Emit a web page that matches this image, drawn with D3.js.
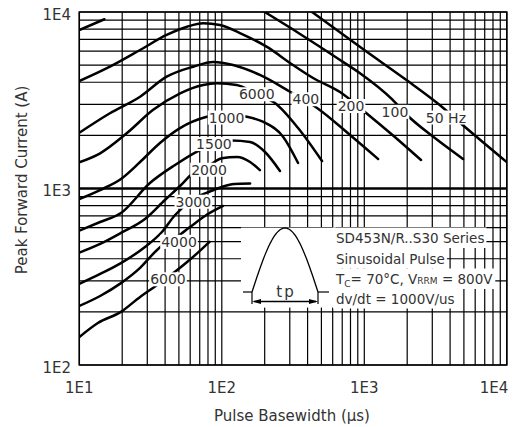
<!DOCTYPE html>
<html>
<head>
<meta charset="utf-8">
<script src="https://cdn.jsdelivr.net/npm/d3@7"></script>
<style>
  body { margin: 0; background: #fff; }
  text { font-family: "DejaVu Sans", sans-serif; fill: #333; }
</style>
</head>
<body>
<svg id="chart" width="526" height="427"></svg>
<script>
// curves: [pulse basewidth (us), peak current (A)]
var c50   = [[430,10000],[1000,6090],[2000,4090],[3300,3020],[5090,2230],[10000,1410]];
var c100a = [[10,7900],[15,9100]];
var c100b = [[200,10000],[354,7510],[676,5350],[933,4500],[1563,3210],[2000,2600],[3130,1930],[4930,1470]];
var c200  = [[10,4060],[16.4,4900],[26.7,6090],[41,7410],[57,8250],[74,8630],[97,8440],[134,7600],[206,6360],[316,5010],[437,4230],[675,3520],[1030,2680],[1600,1990],[2500,1450]];
var c400  = [[10,2070],[16.4,2670],[26.7,3310],[41,4300],[63,4900],[87,5210],[120,5010],[185,4400],[301,3535],[466,2860],[794,2010],[1250,1470]];
var c600  = [[10,1408],[14,1583],[21.5,2054],[33,2790],[51,3463],[74,3860],[92.5,3945],[127,3860],[174,3430],[236,3050],[343,2200],[505,1430]];
var c1000 = [[10,872],[14,980],[19.6,1132],[26.7,1413],[36.8,1810],[50.9,2200],[77.4,2540],[107,2640],[150,2552],[194,2390],[269,1966],[343,1395]];
var c1500 = [[10,577],[14,646],[19.6,726],[31.3,1074],[47,1360],[67,1620],[88,1786],[117,1870],[158,1834],[201,1610],[256,1257]];
var c2000 = [[10,433],[14,485],[19.6,560],[28.9,672],[39.9,861],[50.9,1033],[61.8,1208],[82.6,1360],[99.8,1483],[128,1508],[158,1413],[185,1270]];
var c3000 = [[10,288],[14,328],[19.6,378],[28.9,466],[38,567],[47,708],[62.8,870],[84,968],[100,1020],[122,1060],[158,1067]];
var c4000 = [[10,216],[14,246],[19.6,291],[26.7,355],[34,437],[39.9,491],[49.3,538],[59.8,605],[76.2,699],[102,796]];
var c6000 = [[10,144],[13.5,173],[19.6,200],[26.7,243],[31.3,266],[42,315],[56,378],[70.1,443],[82,498]];

var labelText = ["50 Hz","100","200","400","6000","1000","1500","2000","3000","4000","6000"];
var labelT    = [3740,1642,807,389,176,108,88,81.3,63.1,50.1,41.9];
var labelI    = [2525,2720,2934,3206,3421,2525,1786,1278,842,499,306];

var xTicks = [10,100,1000,10000];
var xTickText = ["1E1","1E2","1E3","1E4"];
var yTicks = [100,1000,10000];
var yTickText = ["1E2","1E3","1E4"];

var svg = d3.select("#chart");
var plotL = 79.3, plotR = 506.8, plotT = 12, plotB = 365;
var x = d3.scaleLog().domain([10,10000]).range([plotL,plotR]);
var y = d3.scaleLog().domain([100,10000]).range([plotB,plotT]);

// grid
var grid = svg.append("g").attr("stroke","#000");
grid.selectAll(".vg").data(x.ticks()).enter().append("line")
  .attr("x1", function(d){ return x(d); }).attr("x2", function(d){ return x(d); })
  .attr("y1", plotT).attr("y2", plotB).attr("stroke-width", 1.2);
grid.selectAll(".hg").data(y.ticks()).enter().append("line")
  .attr("x1", plotL).attr("x2", plotR)
  .attr("y1", function(d){ return y(d); }).attr("y2", function(d){ return y(d); })
  .attr("stroke-width", function(d){ return d == 1000 ? 2.4 : 1.2; });
svg.append("rect").attr("x",plotL).attr("y",plotT).attr("width",plotR-plotL).attr("height",plotB-plotT)
  .attr("fill","none").attr("stroke","#000").attr("stroke-width",1.5);

// curves
svg.append("clipPath").attr("id","plot").append("rect")
  .attr("x",plotL).attr("y",plotT).attr("width",plotR-plotL).attr("height",plotB-plotT);
var line = d3.line().x(function(d){ return x(d[0]); }).y(function(d){ return y(d[1]); })
  .curve(d3.curveMonotoneX);
var curves = [c50,c100a,c100b,c200,c400,c600,c1000,c1500,c2000,c3000,c4000,c6000];
svg.append("g").attr("clip-path","url(#plot)").selectAll("path").data(curves).enter().append("path")
  .attr("d", line).attr("fill","none").attr("stroke","#000")
  .attr("stroke-width",2.5).attr("stroke-linecap","round");

// curve labels on white boxes
labelText.forEach(function(s, i) {
  var lg = svg.append("g");
  var t = lg.append("text").attr("x", x(labelT[i])).attr("y", y(labelI[i]))
    .attr("dy","0.36em").attr("text-anchor","middle").attr("font-size",14).text(s);
  var b = t.node().getBBox();
  lg.insert("rect","text").attr("x",b.x-1).attr("y",b.y+1).attr("width",b.width+2).attr("height",b.height-2)
    .attr("fill","#fff");
});

// inset
var inset = svg.append("g");
inset.append("rect").attr("x",241).attr("y",227.6).attr("width",95).attr("height",80).attr("fill","#fff");
var px0 = 252, px1 = 318, pbase = 292, ptop = 228;
var pulse = d3.range(0,41).map(function(i){
  return [px0 + (px1-px0)*i/40, pbase - (pbase-ptop)*Math.sin(Math.PI*i/40)];
});
inset.append("path").attr("d", d3.line()(pulse)).attr("fill","none").attr("stroke","#000").attr("stroke-width",1.3);
inset.append("line").attr("x1",243).attr("x2",px0).attr("y1",pbase).attr("y2",pbase).attr("stroke","#000").attr("stroke-width",1.2);
inset.append("line").attr("x1",px1).attr("x2",329).attr("y1",pbase).attr("y2",pbase).attr("stroke","#000").attr("stroke-width",1.2);
[px0,px1].forEach(function(v){
  inset.append("line").attr("x1",v).attr("x2",v).attr("y1",pbase).attr("y2",304).attr("stroke","#000").attr("stroke-width",1.2);
});
inset.append("line").attr("x1",px0+2).attr("x2",px1-2).attr("y1",301.5).attr("y2",301.5).attr("stroke","#000").attr("stroke-width",1.3);
inset.append("path").attr("d","M"+px0+",301.5 l9,-2.5 l0,5 z").attr("fill","#000");
inset.append("path").attr("d","M"+px1+",301.5 l-9,-2.5 l0,5 z").attr("fill","#000");
inset.append("text").attr("x",286).attr("y",297).attr("text-anchor","middle").attr("font-size",15)
  .attr("letter-spacing",2).text("tp");

var noteY = [243, 263.5, 284, 303.5];
var notes = inset.append("g");
function noteLine(i, build) {
  var ng = notes.append("g");
  var t = ng.append("text").attr("x",336).attr("y",noteY[i]).attr("font-size",13.5);
  build(t);
  var b = t.node().getBBox();
  ng.insert("rect","text").attr("x",333).attr("y",noteY[i]-15.5).attr("width",b.x+b.width-333+2).attr("height",20.5)
    .attr("fill","#fff");
}
noteLine(0, function(t){ t.text("SD453N/R..S30 Series"); });
noteLine(1, function(t){ t.text("Sinusoidal Pulse"); });
noteLine(2, function(t){
  t.append("tspan").text("T");
  t.append("tspan").attr("font-size",9).attr("dy",3).text("C");
  t.append("tspan").attr("dy",-3).text("= 70°C, V");
  t.append("tspan").attr("font-size",9).text("RRM");
  t.append("tspan").text(" = 800V");
});
noteLine(3, function(t){ t.text("dv/dt = 1000V/us"); });

// tick labels
svg.selectAll(".xt").data(xTicks).enter().append("text")
  .attr("x", function(d){ return Math.min(x(d), 494); }).attr("y", 393)
  .attr("text-anchor","middle").attr("font-size",15)
  .text(function(d,i){ return xTickText[i]; });
svg.selectAll(".yt").data(yTicks).enter().append("text")
  .attr("x", 71).attr("y", function(d){ return y(d) + 7.5; })
  .attr("text-anchor","end").attr("font-size",15)
  .text(function(d,i){ return yTickText[i]; });

// axis titles
svg.append("text").attr("x",292).attr("y",421).attr("text-anchor","middle").attr("font-size",15)
  .text("Pulse Basewidth (µs)");
svg.append("text").attr("transform","translate(27,180) rotate(-90)").attr("text-anchor","middle")
  .attr("font-size",15).text("Peak Forward Current (A)");
</script>
</body>
</html>
